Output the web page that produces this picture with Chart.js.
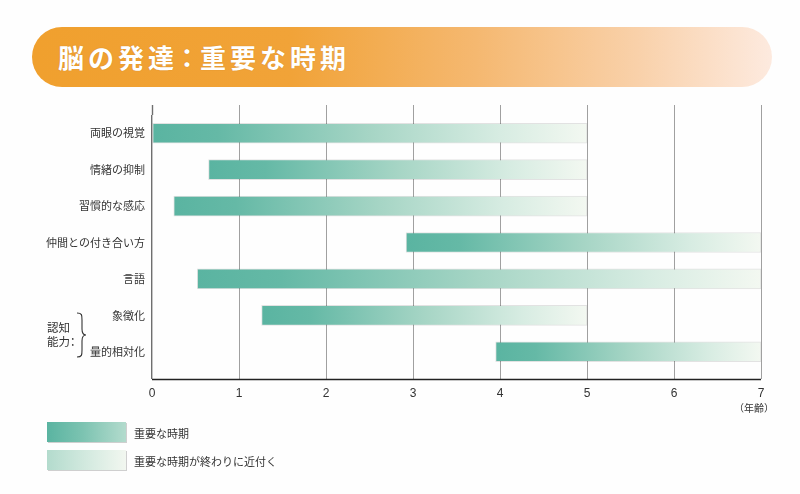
<!DOCTYPE html>
<html lang="ja">
<head>
<meta charset="utf-8">
<script src="https://cdn.jsdelivr.net/npm/chart.js@4"></script>
<style>
  html, body { margin:0; padding:0; background:#fefefe; }
  body { width:800px; height:494px; position:relative; overflow:hidden;
         font-family:"Noto Sans CJK JP","Noto Sans",sans-serif; color:#333; }
  #wrap { position:absolute; left:0; top:0; width:800px; height:494px; }
  #title { position:absolute; left:32px; top:27px; width:740px; height:60px; border-radius:30px;
           background:linear-gradient(to right,#f0a02e 0%,#f1a338 35%,#f5b870 60%,#f9d1aa 82%,#fdeadf 100%); }
  #title span.t { position:absolute; left:26px; top:12px; font-size:26px; font-weight:bold; color:#fff;
                letter-spacing:4px; line-height:36px; white-space:nowrap; text-shadow:0 0 1px rgba(120,60,0,0.35); }
  #title span.col { margin:0 -4px; }
  .lg { position:absolute; left:47px; width:79px; height:20px; box-shadow:1px 1px 0 #cfcfcf; }
  .lgt { position:absolute; left:134px; font-size:11px; line-height:14px; color:#333; }
  #unit { position:absolute; left:734px; top:401px; font-size:10px; line-height:13px; color:#333; }
  .grp { position:absolute; left:47px; font-size:11.5px; line-height:14px; color:#333; white-space:nowrap; }
  .grp .col { margin-left:-3px; }
</style>
</head>
<body>
<div id="wrap"><canvas id="c" width="800" height="494"></canvas></div>
<div id="title"><span class="t">脳の発達<span class="col">：</span>重要な時期</span></div>
<div id="unit">（年齢）</div>
<div class="grp" style="top:320px">認知</div>
<div class="grp" style="top:334px">能力<span class="col">：</span></div>
<svg style="position:absolute;left:73px;top:312px" width="16" height="46" viewBox="0 0 16 46">
  <path d="M4 1 C9 1 9 3 9 8 L9 17 C9 21 10 23 13 23 C10 23 9 25 9 29 L9 38 C9 43 9 45 4 45" fill="none" stroke="#333" stroke-width="1.1"/>
</svg>
<div class="lg" style="top:422px;background:linear-gradient(to right,#5ab4a1,#7cc3b1 45%,#b3dbcd)"></div>
<div class="lgt" style="top:426px">重要な時期</div>
<div class="lg" style="top:450px;background:linear-gradient(to right,#b3dbcd,#d6ebe1 55%,#f2f7f0)"></div>
<div class="lgt" style="top:454px">重要な時期が終わりに近付く</div>
<script>
const categories = ["両眼の視覚","情緒の抑制","習慣的な感応","仲間との付き合い方","言語","象徴化","量的相対化"];
const startAges = [0, 0.65, 0.25, 2.92, 0.52, 1.26, 3.95];
const endAges   = [5, 5, 5, 7, 7, 5, 7];
const xTicks = [0,1,2,3,4,5,6,7];
const seriesLabel = "重要な時期";

const ranges = categories.map((c,i)=>[startAges[i], endAges[i]]);

function barGradient(ctx){
  const chart = ctx.chart;
  const xs = chart.scales && chart.scales.x;
  if(!chart.chartArea || !xs || !ctx.raw) return '#7cc3b1';
  const x0 = xs.getPixelForValue(ctx.raw[0]);
  const x1 = xs.getPixelForValue(ctx.raw[1]);
  const g = chart.ctx.createLinearGradient(x0,0,x1,0);
  g.addColorStop(0,'#5ab4a1');
  g.addColorStop(0.15,'#65b9a6');
  g.addColorStop(0.5,'#a6d5c5');
  g.addColorStop(0.8,'#d7ece2');
  g.addColorStop(1,'#f3f8f1');
  return g;
}

const extendGrid = {
  id:'extendGrid',
  beforeDatasetsDraw(chart){
    const {ctx, chartArea:a, scales:{x}} = chart;
    ctx.save();
    x.ticks.forEach((t,i)=>{
      const px = Math.round(x.getPixelForValue(t.value))+0.5;
      ctx.strokeStyle = i===0 ? '#6f6f6f' : '#a0a0a0';
      ctx.lineWidth = i===0 ? 1.4 : 1;
      ctx.beginPath(); ctx.moveTo(px,a.top-10); ctx.lineTo(px,a.top); ctx.stroke();
    });
    ctx.strokeStyle='#222'; ctx.lineWidth=1.3;
    ctx.beginPath(); ctx.moveTo(a.left, a.bottom+9.5); ctx.lineTo(a.right, a.bottom+9.5); ctx.stroke();
    ctx.restore();
  }
};

new Chart(document.getElementById('c'), {
  type:'bar',
  data:{ labels:categories, datasets:[{
    label:seriesLabel, data:ranges, backgroundColor:barGradient,
    borderColor:'rgba(0,0,0,0.11)', borderWidth:1, borderSkipped:false, barThickness:20
  }]},
  options:{
    indexAxis:'y', responsive:false, animation:false, devicePixelRatio:1,
    layout:{ padding:{ top:115, right:39, bottom:84, left:0 } },
    plugins:{ legend:{display:false}, tooltip:{enabled:false}, title:{display:false} },
    scales:{
      x:{ type:'linear', min:0, max:7,
          afterBuildTicks(s){ s.ticks = xTicks.map(v=>({value:v})); },
          afterFit(s){ s.height = 40; },
          grid:{ color:(c)=> c.index===0 ? '#6f6f6f' : '#a0a0a0', lineWidth:(c)=> c.index===0?1.4:1, tickLength:9, drawTicks:true },
          border:{ display:false },
          ticks:{ color:'#333', font:{ size:12, family:'"Liberation Sans", Arial, sans-serif' }, padding:7, maxRotation:0 } },
      y:{ afterFit(s){ s.width = 152; },
          grid:{ display:false, drawTicks:false }, border:{ display:false },
          ticks:{ color:'#333', padding:7, font:{ size:11, family:'"Noto Sans CJK JP", sans-serif' } } }
    }
  },
  plugins:[extendGrid]
});
</script>
</body>
</html>
